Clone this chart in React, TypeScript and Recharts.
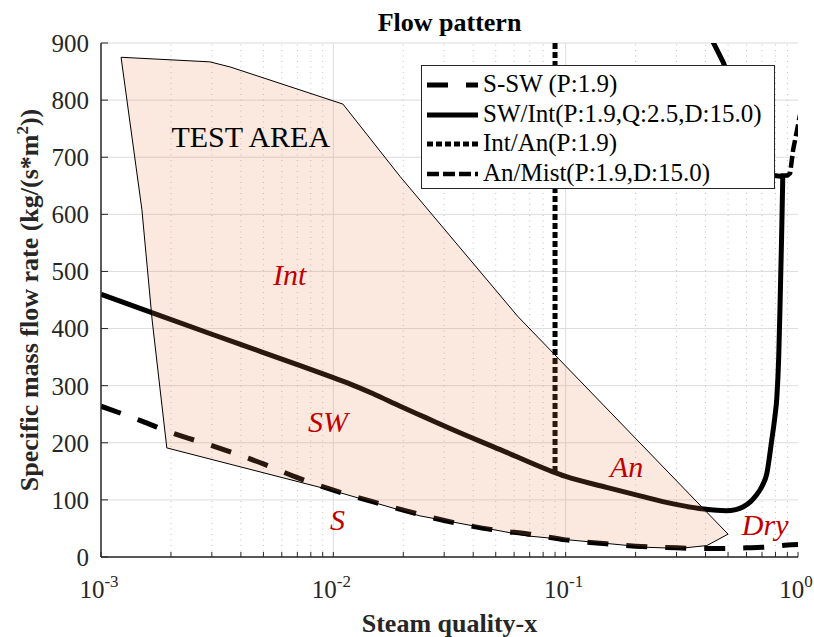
import React from 'react';
import {
  ComposedChart,
  Line,
  Scatter,
  XAxis,
  YAxis,
  CartesianGrid,
  ReferenceLine,
  Legend,
} from 'recharts';

const SERIF = '"Liberation Serif", "Times New Roman", serif';
const AXIS = '#262626';

const xMajorTicks = [0.001, 0.01, 0.1, 1];
const xMinorTicks = [
  0.002, 0.003, 0.004, 0.005, 0.006, 0.007, 0.008, 0.009,
  0.02, 0.03, 0.04, 0.05, 0.06, 0.07, 0.08, 0.09,
  0.2, 0.3, 0.4, 0.5, 0.6, 0.7, 0.8, 0.9,
];
const yTicks = [0, 100, 200, 300, 400, 500, 600, 700, 800, 900];

// S-SW (P:1.9)
const sSwData = [
  { x: 0.001, y: 264 }, { x: 0.0015, y: 238 }, { x: 0.002, y: 218 },
  { x: 0.003, y: 195 }, { x: 0.005, y: 163 }, { x: 0.007, y: 139 },
  { x: 0.01, y: 117 }, { x: 0.015, y: 96 }, { x: 0.02, y: 82 },
  { x: 0.03, y: 64 }, { x: 0.05, y: 47 }, { x: 0.07, y: 40 },
  { x: 0.1, y: 30 }, { x: 0.15, y: 23 }, { x: 0.2, y: 19 },
  { x: 0.3, y: 16 }, { x: 0.4, y: 15 }, { x: 0.5, y: 15 },
  { x: 0.6, y: 16 }, { x: 0.7, y: 17 }, { x: 0.8, y: 19 },
  { x: 0.9, y: 21 }, { x: 1.0, y: 22 },
];

// SW/Int(P:1.9,Q:2.5,D:15.0) - main branch (x increasing)
const swIntData = [
  { x: 0.001, y: 460 }, { x: 0.0017, y: 426 }, { x: 0.003, y: 390 },
  { x: 0.005, y: 358 }, { x: 0.0072, y: 335 }, { x: 0.01, y: 314 },
  { x: 0.0115, y: 305 }, { x: 0.015, y: 285 }, { x: 0.0194, y: 264 },
  { x: 0.025, y: 244 }, { x: 0.0318, y: 225 }, { x: 0.0523, y: 188 },
  { x: 0.0857, y: 151 }, { x: 0.1, y: 141 }, { x: 0.15, y: 122 },
  { x: 0.209, y: 107 }, { x: 0.291, y: 93 }, { x: 0.393, y: 84 },
  { x: 0.49, y: 81 }, { x: 0.54, y: 83 }, { x: 0.582, y: 88 },
  { x: 0.625, y: 97 }, { x: 0.661, y: 108 }, { x: 0.7, y: 124 },
  { x: 0.734, y: 146 }, { x: 0.771, y: 205 }, { x: 0.795, y: 245 },
  { x: 0.811, y: 280 }, { x: 0.826, y: 350 }, { x: 0.838, y: 450 },
  { x: 0.85, y: 560 }, { x: 0.86, y: 666 },
];
// SW/Int upper branch (turns back, mostly under the legend)
const swIntReturnData = [
  { x: 0.86, y: 666 }, { x: 0.79, y: 668 }, { x: 0.7, y: 680 },
  { x: 0.55, y: 800 }, { x: 0.478, y: 865 }, { x: 0.433, y: 900 },
  { x: 0.41, y: 918 },
];

// Int/An(P:1.9)
const intAnData = [{ x: 0.09, y: 900 }, { x: 0.09, y: 147 }];

// An/Mist(P:1.9,D:15.0)
const anMistData = [
  { x: 0.84, y: 668 }, { x: 0.9, y: 668 }, { x: 0.925, y: 672 },
  { x: 0.953, y: 713 }, { x: 1.0, y: 756 }, { x: 1.05, y: 800 },
];

// test area outline
const testArea = [
  { x: 0.00122, y: 875 }, { x: 0.00294, y: 867 }, { x: 0.0036, y: 858 },
  { x: 0.011, y: 793 }, { x: 0.0194, y: 666 }, { x: 0.0623, y: 421 },
  { x: 0.5, y: 40 }, { x: 0.405, y: 20 }, { x: 0.308, y: 15 },
  { x: 0.2234, y: 17 }, { x: 0.068, y: 37 }, { x: 0.0236, y: 72 },
  { x: 0.01, y: 116 }, { x: 0.00192, y: 191 }, { x: 0.00166, y: 415 },
  { x: 0.0015, y: 608 },
];

const regimeLabels = [
  { x: 0.0055, y: 476, text: 'Int' },
  { x: 0.00778, y: 219, text: 'SW' },
  { x: 0.00968, y: 47, text: 'S' },
  { x: 0.155, y: 140, text: 'An' },
  { x: 0.573, y: 38, text: 'Dry' },
];
const areaLabel = [{ x: 0.00201, y: 718, text: 'TEST AREA' }];

const series = [
  { name: 'S-SW (P:1.9)', data: sSwData, dash: '21 18', width: 5, type: 'monotone' },
  { name: 'SW/Int(P:1.9,Q:2.5,D:15.0)', data: swIntData, dash: undefined, width: 5, type: 'monotone' },
  { name: 'Int/An(P:1.9)', data: intAnData, dash: '6 3', width: 5, type: 'linear' },
  { name: 'An/Mist(P:1.9,D:15.0)', data: anMistData, dash: '12 4', width: 4.5, type: 'linear' },
];

function XTick(props: any) {
  const { x, y, payload } = props;
  const v = payload.value;
  if (!xMajorTicks.includes(v)) return <g />;
  const exp = Math.round(Math.log10(v));
  return (
    <text x={x - 2} y={y + 22} textAnchor="middle" fontFamily={SERIF} fontSize={25} fill={AXIS}>
      10<tspan dy={-11} fontSize={17}>{exp}</tspan>
    </text>
  );
}

function XLabel() {
  return (
    <text x={449.5} y={632} textAnchor="middle" fontFamily={SERIF} fontWeight="bold" fontSize={26} fill={AXIS}>
      Steam quality-x
    </text>
  );
}

function YLabel() {
  return (
    <g>
      <text x={449.5} y={30.5} textAnchor="middle" fontFamily={SERIF} fontWeight="bold" fontSize={26} fill="#000">
        Flow pattern
      </text>
      <text transform="translate(38, 300) rotate(-90)" textAnchor="middle" fontFamily={SERIF} fontWeight="bold" fontSize={26} fill={AXIS}>
        Specific mass flow rate (kg/(s*m<tspan dy={-10} fontSize={17}>2</tspan><tspan dy={10}>))</tspan>
      </text>
    </g>
  );
}

function AreaShape(p: any) {
  const pts: { x: number; y: number }[] = p.points || [];
  if (!pts.length) return <g />;
  const d = 'M' + pts.map((q) => `${q.x},${q.y}`).join('L') + 'Z';
  return <path d={d} fill="rgb(234,135,76)" fillOpacity={0.18} stroke="#000" strokeWidth={1} />;
}

function RegimeText(p: any) {
  return (
    <text x={p.cx} y={p.cy} fill="#c00000" fontStyle="italic" fontSize={30} fontFamily={SERIF}>
      {p.payload.text}
    </text>
  );
}

function AreaText(p: any) {
  return (
    <text x={p.cx} y={p.cy} fill="#000" fontSize={30} fontFamily={SERIF}>
      {p.payload.text}
    </text>
  );
}

function LegendBox() {
  return (
    <div
      style={{
        background: '#fff',
        border: `1.5px solid ${AXIS}`,
        padding: '3px 0 0 5px',
        width: 354,
        height: 124,
        boxSizing: 'border-box',
        fontFamily: SERIF,
        fontSize: 25,
        color: '#000',
      }}
    >
      {series.map((s) => (
        <div key={s.name} style={{ display: 'flex', alignItems: 'center', height: 29.5, lineHeight: '29.5px', whiteSpace: 'nowrap' }}>
          <svg width={51} height={29.5} style={{ display: 'block' }}>
            <line x1={0} y1={16} x2={51} y2={16} stroke="#000" strokeWidth={s.width} strokeDasharray={s.dash} />
          </svg>
          <span style={{ marginLeft: 5 }}>{s.name}</span>
        </div>
      ))}
    </div>
  );
}

export default function App() {
  const allXTicks = [...xMajorTicks, ...xMinorTicks].sort((a, b) => a - b);
  return (
    <div style={{ position: 'absolute', left: 0, top: 0, background: '#fff' }}>
      <ComposedChart width={814} height={637} margin={{ top: 43, right: 16, bottom: 0, left: 0 }}>
        <CartesianGrid vertical={false} stroke="#dcdcdc" />
        {xMinorTicks.map((v) => (
          <ReferenceLine key={'m' + v} x={v} stroke="#c2c2c2" strokeDasharray="1 4.5" />
        ))}
        {xMajorTicks.slice(1, -1).map((v) => (
          <ReferenceLine key={'M' + v} x={v} stroke="#dcdcdc" />
        ))}
        <XAxis
          dataKey="x"
          type="number"
          scale="log"
          domain={[0.001, 1]}
          allowDataOverflow
          ticks={allXTicks}
          interval={0}
          height={80}
          tickSize={-5}
          tickMargin={24}
          tick={<XTick />}
          tickLine={{ stroke: AXIS }}
          axisLine={{ stroke: AXIS, strokeWidth: 1.5 }}
          label={<XLabel />}
        />
        <XAxis
          xAxisId="top"
          orientation="top"
          type="number"
          scale="log"
          domain={[0.001, 1]}
          allowDataOverflow
          ticks={allXTicks}
          interval={0}
          height={0}
          tickSize={-5}
          tick={false}
          tickLine={{ stroke: AXIS }}
          axisLine={{ stroke: AXIS, strokeWidth: 1.5 }}
        />
        <YAxis
          dataKey="y"
          type="number"
          domain={[0, 900]}
          allowDataOverflow
          ticks={yTicks}
          interval={0}
          width={101}
          tickSize={-7}
          tickMargin={19}
          tick={{ fontFamily: SERIF, fontSize: 25, fill: AXIS }}
          tickLine={{ stroke: AXIS }}
          axisLine={{ stroke: AXIS, strokeWidth: 1.5 }}
          label={<YLabel />}
        />
        <YAxis
          yAxisId="right"
          orientation="right"
          type="number"
          domain={[0, 900]}
          ticks={yTicks}
          interval={0}
          width={0}
          tickSize={-7}
          tick={false}
          tickLine={{ stroke: AXIS }}
          axisLine={{ stroke: AXIS, strokeWidth: 1.5 }}
        />
        {series.map((s) => (
          <Line
            key={s.name}
            name={s.name}
            data={s.data}
            dataKey="y"
            type={s.type as any}
            stroke="#000"
            strokeWidth={s.width}
            strokeDasharray={s.dash}
            strokeLinejoin="round"
            dot={false}
            activeDot={false}
            isAnimationActive={false}
          />
        ))}
        <Line
          name="SW/Int upper"
          data={swIntReturnData}
          dataKey="y"
          type="linear"
          stroke="#000"
          strokeWidth={5}
          strokeLinejoin="round"
          dot={false}
          activeDot={false}
          legendType="none"
          isAnimationActive={false}
        />
        <Scatter
          name="test area"
          data={testArea}
          shape={() => <g />}
          line={(p: any) => <AreaShape {...p} />}
          isAnimationActive={false}
          legendType="none"
        />
        <Scatter name="regimes" data={regimeLabels} shape={RegimeText} isAnimationActive={false} legendType="none" />
        <Scatter name="area label" data={areaLabel} shape={AreaText} isAnimationActive={false} legendType="none" />
        <Legend
          layout="vertical"
          align="center"
          verticalAlign="middle"
          wrapperStyle={{ left: 421, top: 65, width: 354 }}
          content={() => <LegendBox />}
        />
      </ComposedChart>
    </div>
  );
}
